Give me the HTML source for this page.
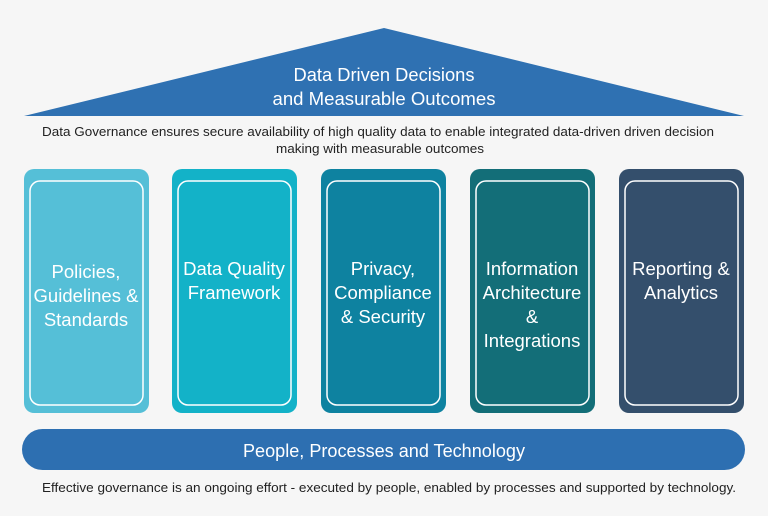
<!DOCTYPE html>
<html><head><meta charset="utf-8"><style>
html,body{margin:0;padding:0;background:#f6f6f6;}
svg{display:block;}
text{font-family:"Liberation Sans",sans-serif;}
</style></head><body>
<svg width="768" height="516" viewBox="0 0 768 516" xmlns="http://www.w3.org/2000/svg">
<rect width="768" height="516" fill="#f6f6f6"/>
<polygon points="24,116 384,28 744,116" fill="#2f71b2"/>
<text x="384" y="81" text-anchor="middle" fill="#fff" font-size="18" textLength="181" lengthAdjust="spacingAndGlyphs">Data Driven Decisions</text>
<text x="384" y="105" text-anchor="middle" fill="#fff" font-size="18" textLength="223" lengthAdjust="spacingAndGlyphs">and Measurable Outcomes</text>
<text x="42" y="136" fill="#222" font-size="13" textLength="672" lengthAdjust="spacingAndGlyphs">Data Governance ensures secure availability of high quality data to enable integrated data-driven driven decision</text>
<text x="276" y="153" fill="#222" font-size="13" textLength="208" lengthAdjust="spacingAndGlyphs">making with measurable outcomes</text>
<g>
<rect x="24" y="169" width="125" height="244" rx="10" fill="#55bfd7"/>
<rect x="30" y="181" width="113" height="224" rx="10" fill="none" stroke="#fff" stroke-width="1.5"/>
<rect x="172" y="169" width="125" height="244" rx="10" fill="#13b2c8"/>
<rect x="178" y="181" width="113" height="224" rx="10" fill="none" stroke="#fff" stroke-width="1.5"/>
<rect x="321" y="169" width="125" height="244" rx="10" fill="#0e82a0"/>
<rect x="327" y="181" width="113" height="224" rx="10" fill="none" stroke="#fff" stroke-width="1.5"/>
<rect x="470" y="169" width="125" height="244" rx="10" fill="#136e78"/>
<rect x="476" y="181" width="113" height="224" rx="10" fill="none" stroke="#fff" stroke-width="1.5"/>
<rect x="619" y="169" width="125" height="244" rx="10" fill="#344f6c"/>
<rect x="625" y="181" width="113" height="224" rx="10" fill="none" stroke="#fff" stroke-width="1.5"/>
</g>
<g fill="#fff" font-size="18.5" text-anchor="middle">
<text x="86" y="278">Policies,</text><text x="86" y="302">Guidelines &amp;</text><text x="86" y="326">Standards</text>
<text x="234" y="275">Data Quality</text><text x="234" y="299">Framework</text>
<text x="383" y="275">Privacy,</text><text x="383" y="299">Compliance</text><text x="383" y="323">&amp; Security</text>
<text x="532" y="275">Information</text><text x="532" y="299">Architecture</text><text x="532" y="323">&amp;</text><text x="532" y="347">Integrations</text>
<text x="681" y="275">Reporting &amp;</text><text x="681" y="299">Analytics</text>
</g>
<rect x="22" y="429" width="723" height="41" rx="20.5" fill="#2d6fb1"/>
<text x="384" y="457" text-anchor="middle" fill="#fff" font-size="18" textLength="282" lengthAdjust="spacingAndGlyphs">People, Processes and Technology</text>
<text x="42" y="492" fill="#222" font-size="13" textLength="694" lengthAdjust="spacingAndGlyphs">Effective governance is an ongoing effort - executed by people, enabled by processes and supported by technology.</text>
</svg>
</body></html>
